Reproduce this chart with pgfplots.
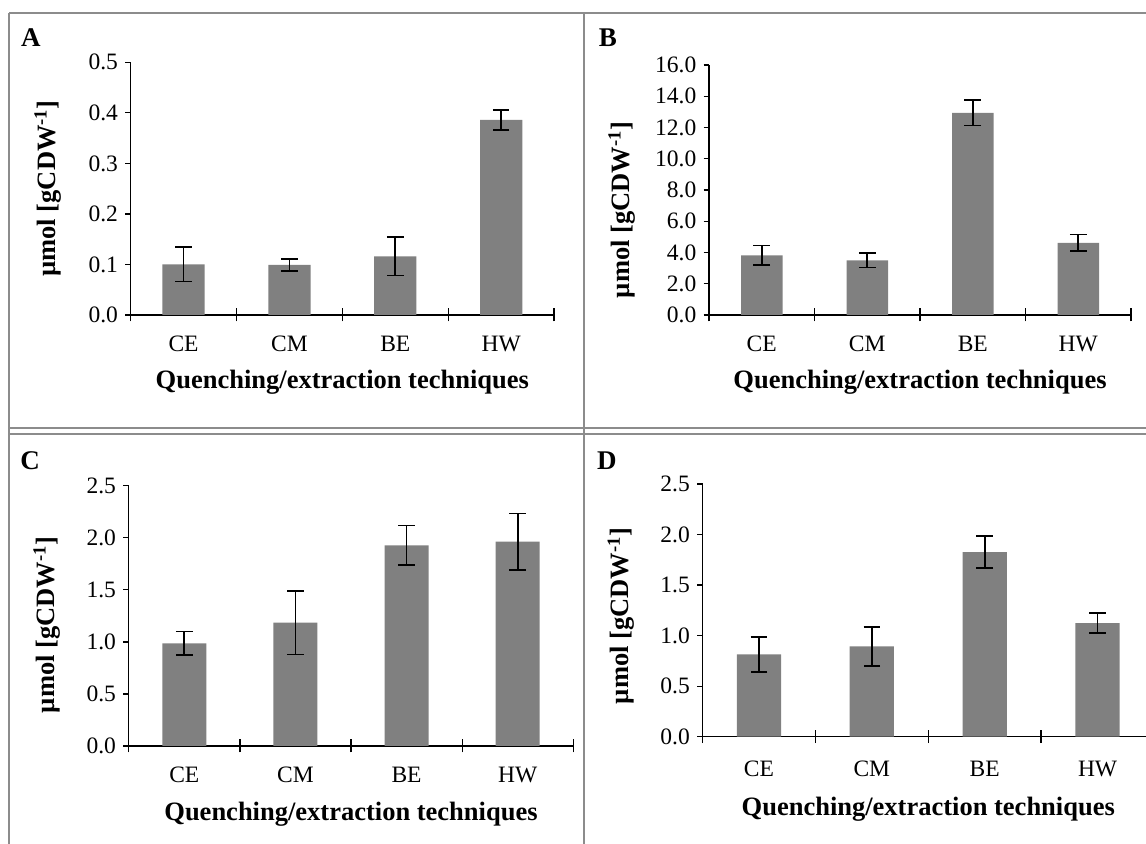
\documentclass[border=0pt]{standalone}
\usepackage{fontspec}
\setmainfont{Liberation Serif}
\usepackage{pgfplots}
\pgfplotsset{compat=1.18}
\definecolor{barg}{RGB}{128,128,128}
\definecolor{bord}{RGB}{140,140,140}
\newcommand{\tickfont}{\fontsize{23.5bp}{28bp}\selectfont}
\newcommand{\titlefont}{\fontsize{26.5bp}{31bp}\selectfont\bfseries}
\newcommand{\letterfont}{\fontsize{27bp}{32bp}\selectfont\bfseries}

\pgfplotsset{
  panel/.style={
    scale only axis, anchor=south west,
    axis lines*=left,
    axis line style={line width=1.4bp, black},
    xmin=-0.5, xmax=3.5, ymin=0,
    xtick={0,1,2,3}, xticklabels={CE,CM,BE,HW},
    every tick/.style={black, line width=1.3bp},
    xtick style={draw=none},
    extra x ticks={-0.5,0.5,1.5,2.5,3.5},
    extra x tick labels={},
    extra x tick style={tick align=center, major tick length=13bp, xtick style={draw=black}},
    tick align=outside, major tick length=5.5bp,
    tick label style={font=\tickfont},
    /pgf/number format/assume math mode=true,
    yticklabel style={/pgf/number format/.cd, fixed, fixed zerofill, precision=1, /tikz/.cd, anchor=east, inner sep=0pt, xshift=-7bp},
    xticklabel style={anchor=base, inner sep=0pt, yshift=-30.7bp},
    xlabel={Quenching/extraction techniques},
    ylabel={µmol [gCDW\textsuperscript{-1}]},
    label style={font=\titlefont},
    clip=false,
  },
  bars/.style={ybar, fill=barg, draw=none,
    error bars/.cd, y dir=both, y explicit,
    error bar style={line width=1.6bp, black},
    error mark options={rotate=90, mark size=8.3bp, line width=1.6bp, black},
    /pgfplots/.cd},
}

\begin{document}
\begin{tikzpicture}[x=1bp, y=1bp]
\path[use as bounding box] (0,0) rectangle (1146,844);
\clip (0,0) rectangle (1146,844);

% panel borders
\draw[bord, line width=2.2bp] (9,831) -- (1146,831);
\draw[bord, line width=2.2bp] (9,831) -- (9,0);
\draw[bord, line width=2.2bp] (584,831) -- (584,0);
\draw[bord, line width=2.2bp] (9,415.7) -- (1146,415.7);
\draw[bord, line width=2.2bp] (9,410.3) -- (1146,410.3);

\node[anchor=base west, inner sep=0pt, font=\letterfont] at (21,797.3) {A};
\node[anchor=base west, inner sep=0pt, font=\letterfont] at (598.7,797.3) {B};
\node[anchor=base west, inner sep=0pt, font=\letterfont] at (20.3,374) {C};
\node[anchor=base west, inner sep=0pt, font=\letterfont] at (597,374) {D};

% Panel A
\begin{axis}[panel, at={(130.6bp,529bp)}, width=423.5bp, height=252.7bp,
  ymax=0.5, ytick={0,0.1,...,0.5},
  xlabel style={at={(axis description cs:0.5,0)}, anchor=base, yshift=-74bp},
  ylabel style={at={(axis description cs:-0.1773,0.5)}, anchor=base}]
\addplot[bar width=42.2bp, bars] coordinates {
  (0,0.100) +- (0,0.034)
  (1,0.099) +- (0,0.012)
  (2,0.116) +- (0,0.038)
  (3,0.386) +- (0,0.020)
};
\end{axis}

% Panel B
\begin{axis}[panel, at={(709bp,529bp)}, width=422bp, height=250bp,
  ymax=16, ytick={0,2,...,16},
  xlabel style={at={(axis description cs:0.5,0)}, anchor=base, yshift=-74bp},
  ylabel style={at={(axis description cs:-0.188,0.42)}, anchor=base}]
\addplot[bar width=41.5bp, bars] coordinates {
  (0,3.82) +- (0,0.62)
  (1,3.50) +- (0,0.46)
  (2,12.94) +- (0,0.82)
  (3,4.62) +- (0,0.54)
};
\end{axis}

% Panel C
\begin{axis}[panel, at={(128.7bp,98bp)}, width=444.6bp, height=260.3bp,
  ymax=2.5, ytick={0,0.5,...,2.5},
  xlabel style={at={(axis description cs:0.5,0)}, anchor=base, yshift=-75bp},
  ylabel style={at={(axis description cs:-0.1664,0.465)}, anchor=base}]
\addplot[bar width=44bp, bars] coordinates {
  (0,0.986) +- (0,0.113)
  (1,1.184) +- (0,0.305)
  (2,1.927) +- (0,0.190)
  (3,1.962) +- (0,0.270)
};
\end{axis}

% Panel D
\begin{axis}[panel, at={(702.5bp,107.3bp)}, width=451.5bp, height=252.7bp,
  ymax=2.5, ytick={0,0.5,...,2.5},
  xticklabel style={yshift=-3.3bp},
  xlabel style={at={(axis description cs:0.5,0)}, anchor=base, yshift=-79bp},
  ylabel style={at={(axis description cs:-0.163,0.478)}, anchor=base}]
\addplot[bar width=44.3bp, bars] coordinates {
  (0,0.815) +- (0,0.173)
  (1,0.894) +- (0,0.194)
  (2,1.826) +- (0,0.160)
  (3,1.123) +- (0,0.100)
};
\end{axis}
\end{tikzpicture}
\end{document}
